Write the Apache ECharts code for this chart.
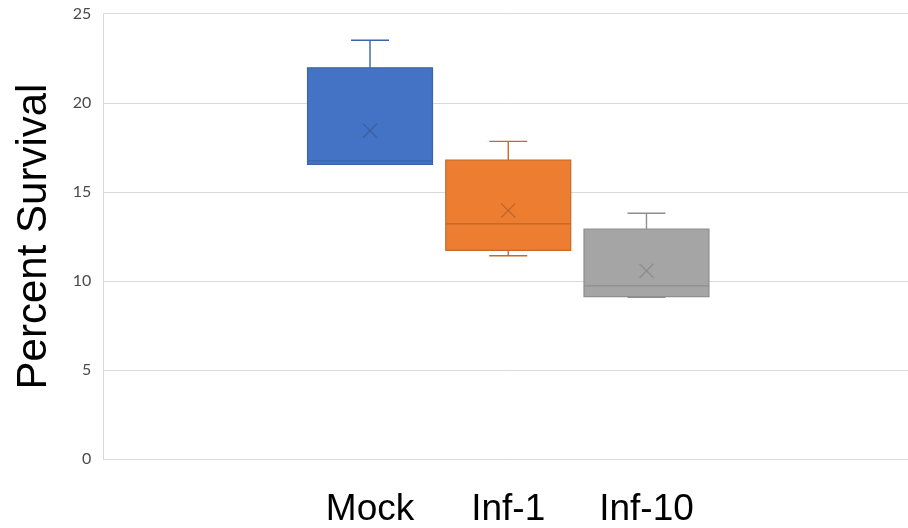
<!DOCTYPE html>
<html>
<head>
<meta charset="utf-8">
<script src="https://cdn.jsdelivr.net/npm/echarts@6/dist/echarts.min.js"></script>
<style>
html,body{margin:0;padding:0;background:#fff;}
#chart{width:908px;height:528px;}
</style>
</head>
<body>
<div id="chart"></div>
<script>
// ---- data ----
const categories = ['Mock', 'Inf-1', 'Inf-10'];
const minValues = [16.5, 11.35, 9.0];
const q1Values = [16.5, 11.65, 9.05];
const medianValues = [16.7, 13.15, 9.65];
const q3Values = [21.95, 16.75, 12.85];
const maxValues = [23.5, 17.8, 13.75];
const meanValues = [18.4, 13.9, 10.5];
const yAxisTitle = 'Percent Survival';

// ---- styles ----
const fills = ['#4472C4', '#ED7D31', '#A5A5A5'];
const strokes = ['#3B64AD', '#C8692A', '#8E8E8E'];
const meanColors = ['#3A5F9E', '#B8642A', '#888888'];

const boxData = categories.map((c, i) => [i, minValues[i], q1Values[i], medianValues[i], q3Values[i], maxValues[i], meanValues[i]]);

function renderBox(params, api) {
  const i = api.value(0);
  const cx = api.coord([i, 0])[0];
  const half = api.size([1, 0])[0] * 0.452;
  const capHalf = 19;
  const yMin = api.coord([i, api.value(1)])[1];
  const yQ1 = api.coord([i, api.value(2)])[1];
  const yMed = api.coord([i, api.value(3)])[1];
  const yQ3 = api.coord([i, api.value(4)])[1];
  const yMax = api.coord([i, api.value(5)])[1];
  const yMean = api.coord([i, api.value(6)])[1];
  const stroke = strokes[i];
  const lw = 1.4;
  const children = [];
  children.push({type: 'line', shape: {x1: cx, y1: yQ3, x2: cx, y2: yMax}, style: {stroke: stroke, lineWidth: lw}});
  children.push({type: 'line', shape: {x1: cx - capHalf, y1: yMax, x2: cx + capHalf, y2: yMax}, style: {stroke: stroke, lineWidth: lw}});
  if (api.value(1) < api.value(2)) {
    children.push({type: 'line', shape: {x1: cx, y1: yQ1, x2: cx, y2: yMin}, style: {stroke: stroke, lineWidth: lw}});
    children.push({type: 'line', shape: {x1: cx - capHalf, y1: yMin, x2: cx + capHalf, y2: yMin}, style: {stroke: stroke, lineWidth: lw}});
  }
  children.push({type: 'rect', shape: {x: cx - half, y: yQ3, width: half * 2, height: yQ1 - yQ3},
    style: {fill: fills[i], stroke: stroke, lineWidth: 1.2}});
  children.push({type: 'line', shape: {x1: cx - half, y1: yMed, x2: cx + half, y2: yMed}, style: {stroke: stroke, lineWidth: 1.4}});
  const m = 7;
  children.push({type: 'line', shape: {x1: cx - m, y1: yMean - m, x2: cx + m, y2: yMean + m}, style: {stroke: meanColors[i], lineWidth: 1.4, opacity: 0.8}});
  children.push({type: 'line', shape: {x1: cx - m, y1: yMean + m, x2: cx + m, y2: yMean - m}, style: {stroke: meanColors[i], lineWidth: 1.4, opacity: 0.8}});
  return {type: 'group', children: children};
}

const chart = echarts.init(document.getElementById('chart'), null, {renderer: 'canvas'});
chart.setOption({
  animation: false,
  backgroundColor: '#ffffff',
  grid: [
    {left: 103.3, right: 0, top: 13.7, bottom: 68.7, containLabel: false},
    {left: 300.9, right: 192.4, top: 13.7, bottom: 68.7, containLabel: false}
  ],
  xAxis: [
    {gridIndex: 0, type: 'value', min: 0, max: 1, show: false},
    {gridIndex: 1, type: 'category', data: categories, boundaryGap: true,
      axisLine: {show: false}, axisTick: {show: false}, splitLine: {show: false},
      axisLabel: {show: true, margin: 34, fontSize: 37, lineHeight: 37, color: '#000000', fontFamily: 'Liberation Sans, Arial, sans-serif'}}
  ],
  yAxis: [
    {gridIndex: 0, type: 'value', min: 0, max: 25, interval: 5,
      axisLine: {show: true, lineStyle: {color: '#d9d9d9', width: 1}},
      axisTick: {show: false},
      splitLine: {show: true, lineStyle: {color: '#d9d9d9', width: 1}},
      axisLabel: {margin: 12, fontSize: 16, color: '#4a4a4a', fontFamily: 'Lato, Carlito, sans-serif'},
      name: yAxisTitle, nameLocation: 'middle', nameRotate: 90, nameGap: 48,
      nameTextStyle: {fontSize: 42, color: '#000000', fontFamily: 'Liberation Sans, Arial, sans-serif'}
    },
    {gridIndex: 1, type: 'value', min: 0, max: 25, interval: 5, show: false}
  ],
  series: [
    {type: 'custom', xAxisIndex: 1, yAxisIndex: 1, data: boxData, renderItem: renderBox, clip: false,
      encode: {x: 0, y: [1, 2, 3, 4, 5]}}
  ]
});
</script>
</body>
</html>
